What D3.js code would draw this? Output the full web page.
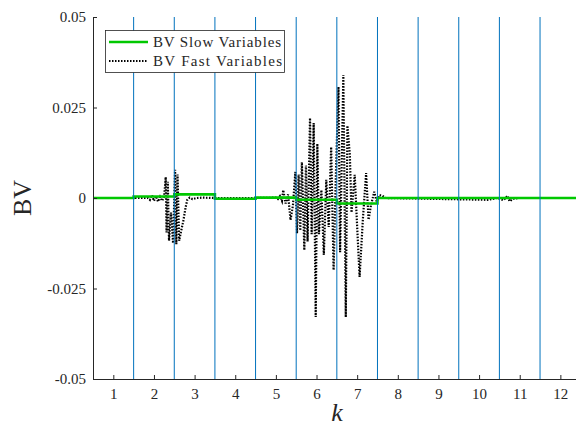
<!DOCTYPE html>
<html>
<head>
<meta charset="utf-8">
<script src="https://cdn.jsdelivr.net/npm/d3@7"></script>
<style>
  body { margin: 0; background: #fff; }
  svg { display: block; }
  text { font-family: "Liberation Serif", "DejaVu Serif", serif; fill: #262626; }
</style>
</head>
<body>
<svg id="chart" width="576" height="428"></svg>
<script>
// x ticks and y ticks
const xTicks = [1, 2, 3, 4, 5, 6, 7, 8, 9, 10, 11, 12];
const yTicks = [-0.05, -0.025, 0, 0.025, 0.05];
const yTickLabels = ["-0.05", "-0.025", "0", "0.025", "0.05"];

// vertical separators between k values
const splitK = [1.5, 2.5, 3.5, 4.5, 5.5, 6.5, 7.5, 8.5, 9.5, 10.5, 11.5];

// slow variables: piecewise constant steps
const slowEdges = [0.5, 1.5, 2.5, 3.5, 4.5, 5.5, 6.5, 7.5, 12.4];
const slowValues = [0, 0.0004, 0.001, -0.0002, 0.0001, -0.0005, -0.0015, 0];

// fast variables
const fastK = [
  0.5, 1.85, 1.9, 1.95, 2.0, 2.05, 2.1, 2.15, 2.2, 2.25,
  2.29, 2.31, 2.34, 2.37, 2.42, 2.47, 2.52, 2.55, 2.58, 2.62,
  2.68, 2.72, 2.78, 2.82, 2.88, 2.95, 3.05, 3.2, 3.5,
  4.5, 5.0, 5.05, 5.1, 5.15,
  5.18, 5.24, 5.3, 5.36, 5.42,
  5.48, 5.52, 5.56, 5.60,
  5.64, 5.70, 5.74, 5.78,
  5.84, 5.88, 5.93, 5.98, 6.02,
  6.06, 6.12, 6.18, 6.24,
  6.30, 6.36, 6.42, 6.48,
  6.54, 6.58, 6.66, 6.72, 6.76,
  6.82, 6.86, 6.94, 6.98, 7.06, 7.14, 7.22, 7.28, 7.34, 7.42, 7.48, 7.55, 7.62, 7.7,
  10.2, 10.45, 10.6, 10.7, 10.75, 10.85, 10.95, 12.4
];
const fastV = [
  0, 0, -0.0005, 0.0008, -0.0008, 0.0005, -0.001, 0.0003, -0.0008, 0.0003,
  0.0058, -0.0095, 0.0045, -0.0118, -0.004, -0.0125, 0.0078, -0.0128, 0.0065, -0.0118,
  -0.0085, -0.0065, -0.0025, -0.0005, 0.0001, -0.0003, 0, 0.0001, 0,
  0, 0.0001, -0.0003, 0.0005, -0.0008,
  0.0022, -0.0015, 0.001, -0.0061, -0.002,
  0.0072, -0.0097, 0.0065, -0.009,
  0.0099, -0.0144, 0.009, -0.012,
  0.0221, -0.01, 0.0207, -0.0329, 0.015,
  -0.01, 0.0022, -0.0157, 0.005,
  -0.008, 0.0141, -0.0199, 0.008,
  0.0307, -0.015, 0.034, -0.0329, 0.02,
  0.0119, -0.004, 0.0064, -0.0033, -0.0218, -0.006, 0.0069, -0.006, -0.002, 0.0017, -0.001, 0.0008, 0.0006, 0,
  -0.0005, 0, -0.0006, 0.0006, -0.0009, -0.0002, 0, 0
];

const svg = d3.select("#chart");
const margin = { left: 93, top: 17, bottom: 379 };

const x = d3.scaleLinear().domain([0.5, 12.4]).range([93, 93 + 11.9 * 40.64]);
const y = d3.scaleLinear().domain([-0.05, 0.05]).range([margin.bottom, margin.top]);

const plot = svg.append("g");

// fast variables
const fastData = fastK.map((k, i) => [k, fastV[i]]);
plot.append("path")
  .datum(fastData)
  .attr("fill", "none")
  .attr("stroke", "#000")
  .attr("stroke-width", 2.2)
  .attr("stroke-dasharray", "1.5,1.5")
  .attr("d", d3.line().x(d => x(d[0])).y(d => y(d[1])));

// slow variables as steps
const slowData = [];
slowValues.forEach((v, i) => {
  slowData.push([slowEdges[i], v]);
  slowData.push([slowEdges[i + 1], v]);
});
plot.append("path")
  .datum(slowData)
  .attr("fill", "none")
  .attr("stroke", "#00c800")
  .attr("stroke-width", 2.6)
  .attr("d", d3.line().x(d => x(d[0])).y(d => y(d[1])));

// vertical lines
plot.selectAll("line.split")
  .data(splitK)
  .enter()
  .append("line")
  .attr("class", "split")
  .attr("x1", d => x(d)).attr("x2", d => x(d))
  .attr("y1", margin.top).attr("y2", margin.bottom)
  .attr("stroke", "#0072BD")
  .attr("stroke-width", 1);

// axes
const xAxis = d3.axisBottom(x).tickValues(xTicks).tickSize(-4).tickPadding(9).tickSizeOuter(0);
const gx = svg.append("g").attr("transform", `translate(0,${margin.bottom})`).call(xAxis);
gx.select(".domain").attr("stroke", "#262626");
gx.selectAll(".tick line").attr("stroke", "#262626");
gx.selectAll("text").style("font-size", "15px").attr("fill", "#262626").style("font-family", "Liberation Serif");

const yAxis = d3.axisLeft(y).tickValues(yTicks).tickFormat((d, i) => yTickLabels[i]).tickSize(-4).tickPadding(7).tickSizeOuter(0);
const gy = svg.append("g").attr("transform", `translate(${margin.left},0)`).call(yAxis);
gy.select(".domain").attr("stroke", "#262626");
gy.selectAll(".tick line").attr("stroke", "#262626");
gy.selectAll("text").style("font-size", "15px").attr("fill", "#262626").style("font-family", "Liberation Serif");

// axis titles
svg.append("text")
  .attr("x", 337).attr("y", 421)
  .attr("text-anchor", "middle")
  .style("font-size", "26px").style("font-style", "italic")
  .text("k");
svg.append("text")
  .attr("transform", "translate(31,198) rotate(-90)")
  .attr("text-anchor", "middle")
  .style("font-size", "26px")
  .text("BV");

// legend
const leg = svg.append("g");
leg.append("rect")
  .attr("x", 105.5).attr("y", 30.5).attr("width", 179).attr("height", 42)
  .attr("fill", "#fff").attr("stroke", "#262626").attr("stroke-width", 0.8);
leg.append("line")
  .attr("x1", 109).attr("x2", 148).attr("y1", 42).attr("y2", 42)
  .attr("stroke", "#00c800").attr("stroke-width", 2.6);
leg.append("line")
  .attr("x1", 109).attr("x2", 148).attr("y1", 61).attr("y2", 61)
  .attr("stroke", "#000").attr("stroke-width", 2.2).attr("stroke-dasharray", "1.5,1.5");
leg.append("text").attr("x", 153).attr("y", 47).style("font-size", "15px")
  .attr("textLength", 128).attr("lengthAdjust", "spacing").text("BV Slow Variables");
leg.append("text").attr("x", 153).attr("y", 66).style("font-size", "15px")
  .attr("textLength", 129).attr("lengthAdjust", "spacing").text("BV Fast Variables");
</script>
</body>
</html>
